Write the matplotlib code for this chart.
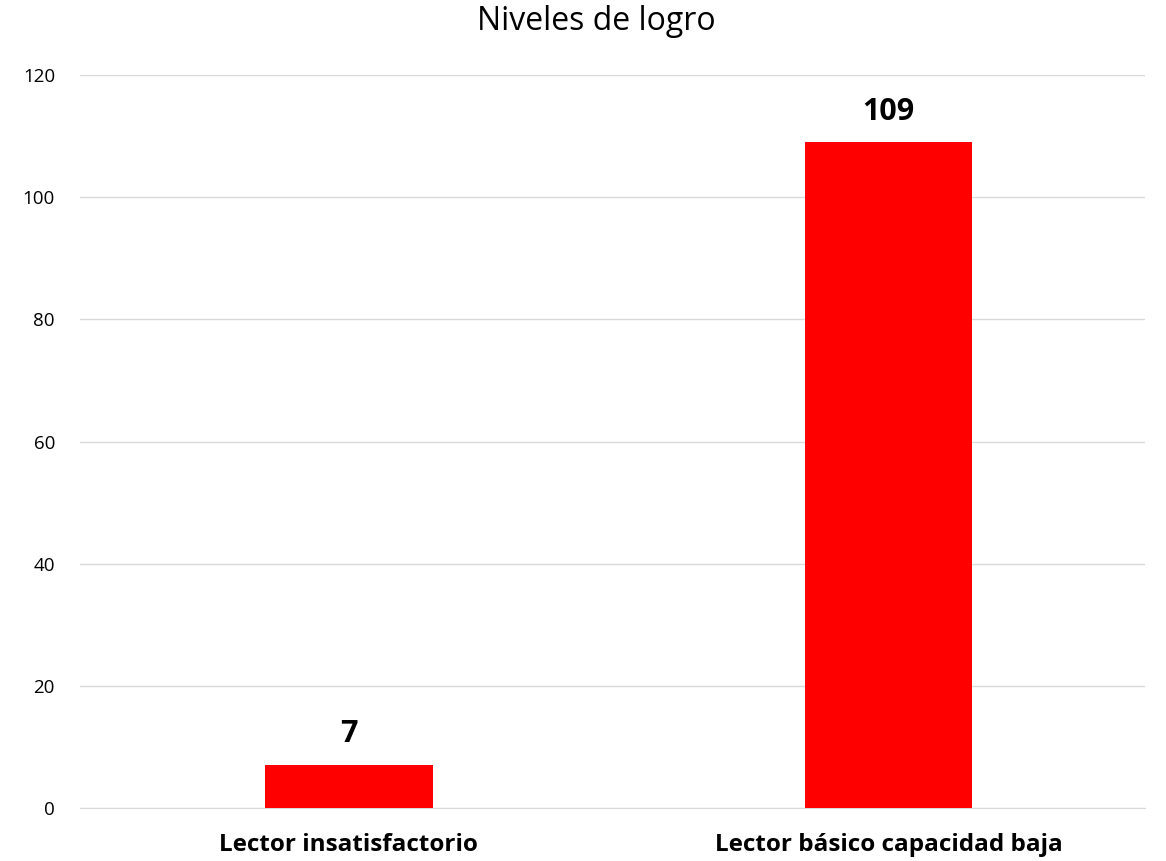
import matplotlib
matplotlib.use("Agg")
import matplotlib.pyplot as plt

# The data
categories = ['Lector insatisfactorio', 'Lector básico capacidad baja']
values = [7, 109]
y_ticks = [0, 20, 40, 60, 80, 100, 120]

plt.rcParams['font.family'] = ['Open Sans', 'DejaVu Sans']

fig = plt.figure(figsize=(11.66, 8.61), dpi=100)
ax = fig.add_axes([0.0686, 0.0616, 0.913, 0.851])

red = '#ff0000'
positions = range(len(categories))
bars = ax.bar(positions, values, width=0.31, color=red, zorder=3)

for b, v in zip(bars, values):
    ax.text(b.get_x() + b.get_width() / 2, v + 2.6, str(v), ha='center',
            va='bottom', fontsize=22, fontweight='bold')

ax.set_xlim(-0.498, 1.474)
ax.set_ylim(0, 120)
ax.set_yticks(y_ticks)
ax.set_xticks(list(positions))
ax.set_xticklabels(categories, fontsize=17.5, fontweight='bold')
ax.tick_params(axis='y', labelsize=13.5, length=0, pad=18)
ax.tick_params(axis='x', length=0, pad=18)

ax.grid(axis='y', color='#d9d9d9', linewidth=1, zorder=0)
for s in ['top', 'right', 'left']:
    ax.spines[s].set_visible(False)
ax.spines['bottom'].set_color('#d9d9d9')

fig.text(0.511, 0.975, 'Niveles de logro', ha='center', va='center', fontsize=23)

fig.savefig('out.png', dpi=100)
